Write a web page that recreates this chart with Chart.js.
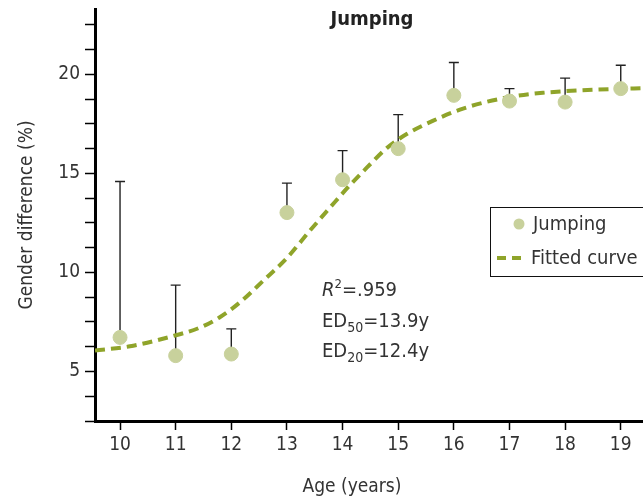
<!DOCTYPE html>
<html>
<head>
<meta charset="utf-8">
<script src="https://cdn.jsdelivr.net/npm/chart.js@4"></script>
<style>
  html, body { margin: 0; padding: 0; background: #fff; }
  #wrap { width: 643px; height: 499px; }
</style>
</head>
<body>
<div id="wrap"><canvas id="chart" width="643" height="499"></canvas></div>
<script>
const ages = [10, 11, 12, 13, 14, 15, 16, 17, 18, 19];
const jumping = [6.72, 5.8, 5.88, 13.02, 14.68, 16.25, 18.94, 18.65, 18.6, 19.28];
const errTop = [14.59, 9.36, 7.15, 14.51, 16.15, 17.97, 20.6, 19.28, 19.81, 20.46];

// fitted curve
const curveAge = [9.55, 10.18, 10.9, 11.44, 11.8, 12.16, 12.57, 13.0, 13.41, 13.77, 14.13, 14.44, 14.8, 15.16, 15.62, 16.11, 16.6, 17.1, 17.6, 18.26, 18.98, 19.4];
const curveVal = [6.06, 6.27, 6.75, 7.22, 7.75, 8.5, 9.57, 10.73, 12.1, 13.26, 14.4, 15.3, 16.29, 17.0, 17.65, 18.22, 18.62, 18.9, 19.07, 19.19, 19.27, 19.3];

const xTicks = [10, 11, 12, 13, 14, 15, 16, 17, 18, 19];
const yTicks = [2.5, 3.75, 5, 6.25, 7.5, 8.75, 10, 11.25, 12.5, 13.75, 15, 16.25, 17.5, 18.75, 20, 21.25, 22.5];
const yLabels = [5, 10, 15, 20];

const FONT = "'DejaVu Sans Condensed', 'Liberation Sans', sans-serif";
const pointColor = '#c8d19c';
const curveColor = '#8fa42a';
const textColor = '#333';

const errorBars = {
    id: 'errorBars',
    beforeDatasetsDraw(chart) {
        const { ctx, scales: { x, y } } = chart;
        ctx.save();
        ctx.strokeStyle = '#222';
        ctx.lineWidth = 1.4;
        ages.forEach((a, i) => {
            const px = x.getPixelForValue(a);
            const y0 = y.getPixelForValue(jumping[i]);
            const y1 = y.getPixelForValue(errTop[i]);
            ctx.beginPath();
            ctx.moveTo(px, y0);
            ctx.lineTo(px, y1);
            ctx.moveTo(px - 5, y1);
            ctx.lineTo(px + 5, y1);
            ctx.stroke();
        });
        ctx.restore();
    }
};

const extras = {
    id: 'extras',
    afterDraw(chart) {
        const ctx = chart.ctx;
        ctx.save();
        ctx.fillStyle = '#222';
        ctx.textBaseline = 'middle';
        ctx.textAlign = 'center';
        ctx.font = `bold 20px ${FONT}`;
        ctx.fillText('Jumping', 372, 20);

        ctx.fillStyle = textColor;
        ctx.font = `19px ${FONT}`;
        ctx.fillText('Age (years)', 352, 487);

        // stats text
        ctx.textAlign = 'left';
        ctx.textBaseline = 'alphabetic';
        let cx = 322;
        ctx.font = `italic 20px ${FONT}`;
        ctx.fillText('R', cx, 296);
        cx += ctx.measureText('R').width;
        ctx.font = `13px ${FONT}`;
        ctx.fillText('2', cx, 288);
        cx += ctx.measureText('2').width;
        ctx.font = `20px ${FONT}`;
        ctx.fillText('=.959', cx, 296);

        [['50', '=13.9y', 327], ['20', '=12.4y', 357]].forEach(([sub, rest, by]) => {
            let tx = 322;
            ctx.font = `20px ${FONT}`;
            ctx.fillText('ED', tx, by);
            tx += ctx.measureText('ED').width;
            ctx.font = `14px ${FONT}`;
            ctx.fillText(sub, tx, by + 5);
            tx += ctx.measureText(sub).width;
            ctx.font = `20px ${FONT}`;
            ctx.fillText(rest, tx, by);
        });

        // legend
        ctx.strokeStyle = '#111';
        ctx.lineWidth = 1;
        ctx.fillStyle = '#fff';
        ctx.fillRect(490.5, 207.5, 160, 69);
        ctx.strokeRect(490.5, 207.5, 160, 69);
        ctx.fillStyle = pointColor;
        ctx.beginPath();
        ctx.arc(519, 224, 5.5, 0, Math.PI * 2);
        ctx.fill();
        ctx.strokeStyle = curveColor;
        ctx.lineWidth = 4;
        ctx.setLineDash([9, 6]);
        ctx.beginPath();
        ctx.moveTo(497, 258);
        ctx.lineTo(526, 258);
        ctx.stroke();
        ctx.setLineDash([]);
        ctx.fillStyle = textColor;
        ctx.textBaseline = 'middle';
        ctx.font = `20px ${FONT}`;
        ctx.fillText('Jumping', 533, 225);
        ctx.fillText('Fitted curve', 531, 259);
        ctx.restore();
    }
};

new Chart(document.getElementById('chart'), {
    type: 'scatter',
    data: {
        datasets: [
            {
                label: 'Fitted curve',
                type: 'line',
                data: curveAge.map((a, i) => ({ x: a, y: curveVal[i] })),
                borderColor: curveColor,
                borderWidth: 4,
                borderDash: [10, 6],
                pointRadius: 0,
                fill: false,
                cubicInterpolationMode: 'monotone',
                order: 2
            },
            {
                label: 'Jumping',
                data: ages.map((a, i) => ({ x: a, y: jumping[i] })),
                backgroundColor: pointColor,
                borderColor: pointColor,
                pointRadius: 7,
                order: 1
            }
        ]
    },
    plugins: [errorBars, extras],
    options: {
        responsive: false,
        animation: false,
        layout: { autoPadding: false, padding: { top: 9, left: 0, right: 0, bottom: 0 } },
        plugins: {
            legend: { display: false },
            tooltip: { enabled: false }
        },
        scales: {
            x: {
                type: 'linear',
                min: 9.55,
                max: 19.4,
                afterBuildTicks: (s) => { s.ticks = xTicks.map(v => ({ value: v })); },
                afterFit: (s) => { s.height = 78; s.paddingLeft = 0; s.paddingRight = 0; },
                border: { color: '#000', width: 3 },
                grid: { drawOnChartArea: false, drawTicks: true, tickLength: 9, tickWidth: 1.5, tickColor: '#000' },
                ticks: { autoSkip: false, maxRotation: 0, color: textColor, font: { family: FONT, size: 19 }, padding: 4 }
            },
            y: {
                type: 'linear',
                min: 2.5,
                max: 23.3,
                afterBuildTicks: (s) => { s.ticks = yTicks.map(v => ({ value: v })); },
                afterFit: (s) => { s.width = 95; s.paddingTop = 0; s.paddingBottom = 0; },
                border: { color: '#000', width: 3 },
                grid: { drawOnChartArea: false, drawTicks: true, tickLength: 10, tickWidth: 1.5, tickColor: '#000' },
                ticks: {
                    autoSkip: false,
                    color: textColor,
                    font: { family: FONT, size: 19 },
                    padding: 5,
                    callback: (v) => yLabels.includes(v) ? String(v) : ''
                },
                title: {
                    display: true,
                    text: 'Gender difference (%)',
                    color: textColor,
                    font: { family: FONT, size: 19 },
                    padding: { top: 16, bottom: 0 }
                }
            }
        }
    }
});
</script>
</body>
</html>
